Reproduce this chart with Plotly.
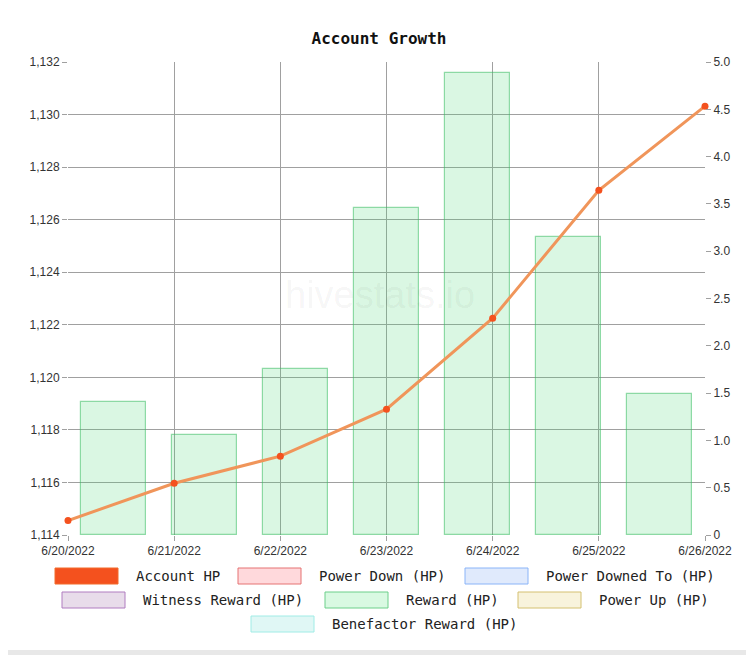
import plotly.graph_objects as go

# --- data ---
dates = ["2022-06-20", "2022-06-21", "2022-06-22", "2022-06-23",
         "2022-06-24", "2022-06-25", "2022-06-26"]
date_labels = ["6/20/2022", "6/21/2022", "6/22/2022", "6/23/2022",
               "6/24/2022", "6/25/2022", "6/26/2022"]
account_hp = [1114.55, 1115.97, 1117.0, 1118.79, 1122.25, 1127.12, 1130.32]
reward_hp = [1.41, 1.06, 1.75, 3.46, 4.88, 3.15, 1.49]

hp_ticks = [1114, 1116, 1118, 1120, 1122, 1124, 1126, 1128, 1130, 1132]
reward_ticks = [0, 0.5, 1.0, 1.5, 2.0, 2.5, 3.0, 3.5, 4.0, 4.5, 5.0]
reward_tick_text = ["0", "0.5", "1.0", "1.5", "2.0", "2.5", "3.0", "3.5", "4.0", "4.5", "5.0"]

legend_names = ["Account HP", "Power Down (HP)", "Power Downed To (HP)",
                "Witness Reward (HP)", "Reward (HP)", "Power Up (HP)",
                "Benefactor Reward (HP)"]
legend_fill = ["#f4511e", "#ffd9dc", "#e0eafc", "#e8dcea", "#d9f9e2", "#f8f3dc", "#e0f7f5"]
legend_line = ["#f26a2a", "#e57373", "#8ab4f8", "#b07cc0", "#6ccf8a", "#d4c070", "#a0ece6"]

# the page body has an 8px margin, so the figure is a bit smaller than the window
OFF = 8
W, H = 754 - OFF, 655 - OFF
L, R, T, B = 68 - OFF, 754 - 705, 62 - OFF, 655 - 535
PW, PH = W - L - R, H - T - B
GRID = "#a0a0a0"
TICKFONT = dict(family="Liberation Sans, Arial, sans-serif", size=12, color="#333")
MONO = "DejaVu Sans Mono, Liberation Mono, monospace"


def px(x):
    # window pixel -> paper x
    return (x - OFF - L) / PW


def py(y):
    # window pixel -> paper y
    return (H + OFF - B - y) / PH


fig = go.Figure()

# Reward bars: category x (hidden), right-hand y
fig.add_trace(go.Bar(
    x=date_labels, y=reward_hp, xaxis="x", yaxis="y", width=0.71,
    name="Reward (HP)",
    marker=dict(color="rgba(70,215,115,0.2)",
                line=dict(color="rgba(60,190,100,0.55)", width=1.2)),
    showlegend=False,
))

# Account HP line: date x, left y
fig.add_trace(go.Scatter(
    x=dates, y=account_hp, xaxis="x2", yaxis="y2", mode="lines+markers",
    name="Account HP", cliponaxis=False,
    line=dict(color="#f0955a", width=3),
    marker=dict(color="#f4511e", size=7),
    showlegend=False,
))

fig.update_layout(
    width=W, height=H,
    margin=dict(l=L, r=R, t=T, b=B),
    paper_bgcolor="white", plot_bgcolor="white",
    showlegend=False, bargap=0,
    title=dict(text="<b>Account Growth</b>", x=px(379), xanchor="center",
               y=1 - (38 - OFF) / H, yanchor="middle", xref="paper",
               font=dict(family=MONO, size=16, color="#111")),
    xaxis=dict(type="category", range=[-0.5, 6.5], visible=False, fixedrange=True),
    yaxis=dict(side="right", range=[0, 5], tickvals=reward_ticks, ticktext=reward_tick_text,
               showgrid=False, zeroline=False, ticks="outside", ticklen=5,
               tickcolor=GRID, tickfont=TICKFONT, showline=False),
    xaxis2=dict(overlaying="x", type="date", range=[dates[0], dates[-1]],
                tickvals=dates, ticktext=date_labels,
                showgrid=True, gridcolor=GRID, gridwidth=1, zeroline=False,
                ticks="outside", ticklen=5, tickcolor=GRID, tickfont=TICKFONT,
                showline=False),
    yaxis2=dict(overlaying="y", side="left", range=[hp_ticks[0], hp_ticks[-1]],
                tickvals=hp_ticks, tickformat=",d",
                showgrid=True, gridcolor=GRID, gridwidth=1, zeroline=False,
                ticks="outside", ticklen=5, tickcolor=GRID, tickfont=TICKFONT,
                showline=False),
)

# watermark
fig.add_annotation(text="hivestats.io", xref="paper", yref="paper", x=px(380), y=py(295),
                   showarrow=False, font=dict(family="Liberation Sans, Arial, sans-serif",
                                              size=38, color="rgba(0,0,0,0.05)"))

# custom legend (wide swatches like the original)
legend_pos = [(55, 576), (238, 576), (465, 576),
              (62, 600), (325, 600), (518, 600),
              (251, 624)]
for name, fc, lc, (lx, ly) in zip(legend_names, legend_fill, legend_line, legend_pos):
    fig.add_shape(type="rect", xref="paper", yref="paper",
                  x0=px(lx), x1=px(lx + 63), y0=py(ly + 8), y1=py(ly - 8),
                  fillcolor=fc, line=dict(color=lc, width=1))
    fig.add_annotation(text=name, xref="paper", yref="paper", x=px(lx + 79), y=py(ly),
                       xanchor="left", yanchor="middle", showarrow=False,
                       font=dict(family=MONO, size=14, color="#222"))

# light strip at the bottom of the page
fig.add_shape(type="rect", xref="paper", yref="paper", x0=px(0), x1=px(754),
              y0=py(655), y1=py(650), fillcolor="#e8e8e8", line=dict(width=0))

fig.write_html("out.html")
